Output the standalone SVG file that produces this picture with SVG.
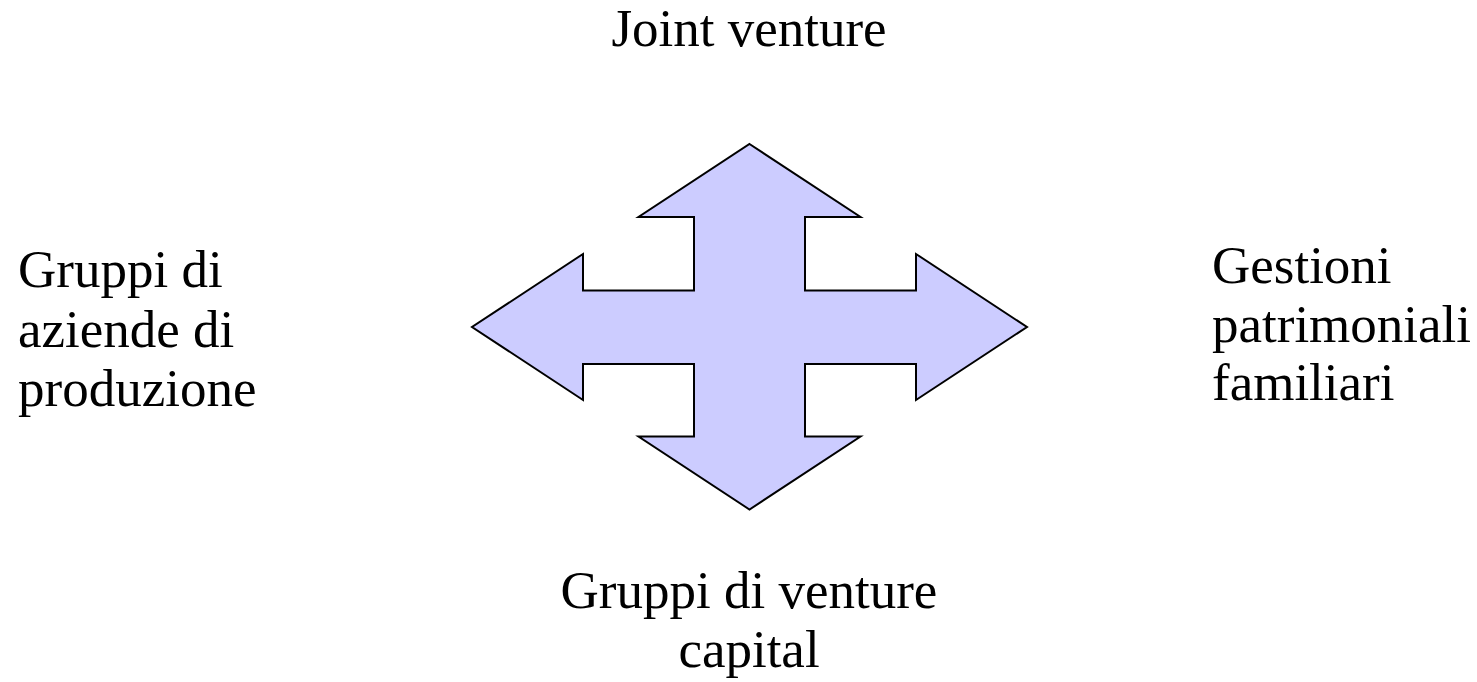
<svg xmlns="http://www.w3.org/2000/svg" width="1477" height="682" viewBox="0 0 1477 682">
<style>
.lbl{font-family:"Liberation Serif","Times New Roman",serif;font-size:53px;fill:#000}
.arrow{fill:#CCCCFF;stroke:#000;stroke-width:2;stroke-linejoin:miter}
</style>
<rect width="1477" height="682" fill="#fff"/>
<g id="cross-arrow">
<polygon class="arrow" points="749.5,144 860.5,217 805,217 805,290.5 916,290.5 916,254 1027,327 916,400 916,364 805,364 805,436.5 860.5,436.5 749.5,509.5 638.5,436.5 694,436.5 694,364 583,364 583,400 472,327 583,254 583,290.5 694,290.5 694,217 638.5,217"/>
</g>
<g id="connectors"></g>
<g id="top-label">
<text class="lbl" x="749" y="46" text-anchor="middle">Joint venture</text>
</g>
<g id="left-label">
<text class="lbl" x="18" y="287">Gruppi di</text>
<text class="lbl" x="18" y="346.5">aziende di</text>
<text class="lbl" x="18" y="406">produzione</text>
</g>
<g id="right-label">
<text class="lbl" x="1212" y="283">Gestioni</text>
<text class="lbl" x="1212" y="341.5">patrimoniali</text>
<text class="lbl" x="1212" y="400">familiari</text>
</g>
<g id="bottom-label">
<text class="lbl" x="749" y="608" text-anchor="middle">Gruppi di venture</text>
<text class="lbl" x="749" y="667" text-anchor="middle">capital</text>
</g>
</svg>
